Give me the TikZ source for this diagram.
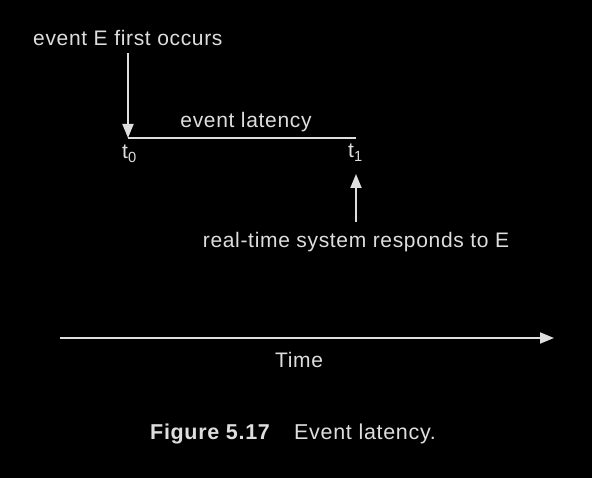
\documentclass[tikz,border=0pt]{standalone}
\usepackage{fontspec}
\setmainfont{Liberation Sans}[LetterSpace=3.2]
\usetikzlibrary{arrows.meta}
\definecolor{fg}{RGB}{222,222,222}
\begin{document}
\begin{tikzpicture}[x=1pt,y=-1pt,
  lbl/.style={text=fg,font=\fontsize{21}{24}\selectfont,inner sep=0pt},
  figcap/.style={text=fg,font=\fontsize{21.5}{24}\selectfont,inner sep=0pt},
  conn/.style={draw=fg,line width=1.8pt},
  tip/.style={-{Triangle[width=11pt,length=14pt]}}]
\fill[black] (0,0) rectangle (592,478);
\useasboundingbox (0,0) rectangle (592,478);
\node[lbl,anchor=base west] (ev) at (33,46) {event E first occurs};
\coordinate (a0) at (128,53);
\coordinate (t0c) at (128,138);
\coordinate (t1c) at (356,138);
\draw[conn,tip] (a0) -- (t0c);
\draw[conn] (t0c) -- (t1c);
\node[lbl,anchor=base] (lat) at (246,128) {event latency};
\node[lbl,anchor=base west] (t0) at (122,159) {t\textsubscript{0}};
\node[lbl,anchor=base west] (t1) at (348,158) {t\textsubscript{1}};
\node[lbl,anchor=base] (resp) at (356,248) {real-time system responds to E};
\coordinate (u0) at (356,222);
\coordinate (u1) at (356,174);
\draw[conn,tip] (u0) -- (u1);
\coordinate (x0) at (60,338);
\coordinate (x1) at (554,338);
\draw[conn,tip] (x0) -- (x1);
\node[lbl,anchor=base] (time) at (299,368) {Time};
\node[figcap,anchor=base west] (fig) at (150,439) {\textbf{Figure 5.17}};
\node[figcap,anchor=base west] (figt) at (294,439) {Event latency.};
\end{tikzpicture}
\end{document}
